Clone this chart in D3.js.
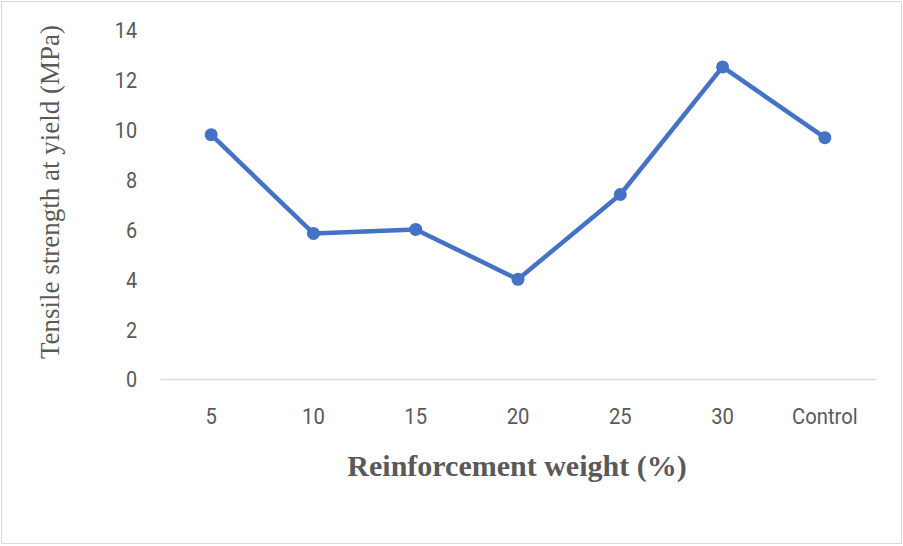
<!DOCTYPE html>
<html>
<head>
<meta charset="utf-8">
<script src="https://cdn.jsdelivr.net/npm/d3@7"></script>
<style>
  html, body { margin: 0; padding: 0; background: #fff; }
  svg { display: block; }
</style>
</head>
<body>
<svg id="chart" width="903" height="546"></svg>
<script>
// Reinforcement weight categories and tensile strength at yield (MPa)
const categories = ["5", "10", "15", "20", "25", "30", "Control"];
const strength = [9.8, 5.84, 6.0, 4.0, 7.4, 12.52, 9.68];
const yTicks = [0, 2, 4, 6, 8, 10, 12, 14];

const svg = d3.select("#chart");
const W = 903, H = 546;
const plot = { left: 160, right: 876, top: 30, bottom: 379 };

// Outer chart frame
svg.append("rect")
  .attr("x", 1.5).attr("y", 1.5)
  .attr("width", W - 3).attr("height", H - 4)
  .attr("fill", "#fff")
  .attr("stroke", "#d9d9d9")
  .attr("stroke-width", 1);

const x = d3.scaleBand()
  .domain(categories)
  .range([plot.left, plot.right]);

const y = d3.scaleLinear()
  .domain([0, 14])
  .range([plot.bottom, plot.top]);

const tickFont = "Roboto, 'Liberation Sans', sans-serif";

// Y axis (labels only)
const yAxis = svg.append("g")
  .attr("transform", `translate(${plot.left - 23},0)`)
  .call(d3.axisLeft(y).tickValues(yTicks).tickSize(0).tickPadding(0));
yAxis.select(".domain").remove();
yAxis.selectAll("text")
  .attr("x", 0)
  .attr("dy", "0.36em")
  .attr("transform", "scale(0.9,1)")
  .attr("fill", "#595959")
  .style("font-family", tickFont)
  .style("font-size", "22px");

// X axis baseline and category labels
const xAxis = svg.append("g")
  .attr("transform", `translate(0,${plot.bottom})`)
  .call(d3.axisBottom(x).tickSize(0));
xAxis.select(".domain")
  .attr("stroke", "#d9d9d9")
  .attr("stroke-width", 1.5);
xAxis.selectAll("text")
  .attr("y", 45)
  .attr("dy", null)
  .attr("transform", "scale(0.92,1)")
  .attr("fill", "#595959")
  .style("font-family", tickFont)
  .style("font-size", "22px");

// Data line
const cx = (d, i) => x(categories[i]) + x.bandwidth() / 2;
const line = d3.line()
  .x(cx)
  .y(d => y(d));

svg.append("path")
  .datum(strength)
  .attr("d", line)
  .attr("fill", "none")
  .attr("stroke", "#4472C4")
  .attr("stroke-width", 4.5)
  .attr("stroke-linejoin", "round");

svg.append("g").selectAll("circle")
  .data(strength)
  .join("circle")
  .attr("cx", cx)
  .attr("cy", d => y(d))
  .attr("r", 6.5)
  .attr("fill", "#4472C4");

// Axis titles
svg.append("text")
  .attr("transform", "translate(59,192) rotate(-90)")
  .attr("text-anchor", "middle")
  .attr("fill", "#595959")
  .style("font-family", "'Liberation Serif', 'Times New Roman', serif")
  .style("font-size", "27px")
  .text("Tensile strength at yield (MPa)");

svg.append("text")
  .attr("x", 517)
  .attr("y", 476)
  .attr("text-anchor", "middle")
  .attr("fill", "#595959")
  .style("font-family", "'Liberation Serif', 'Times New Roman', serif")
  .style("font-size", "30px")
  .style("font-weight", "bold")
  .text("Reinforcement weight (%)");
</script>
</body>
</html>
